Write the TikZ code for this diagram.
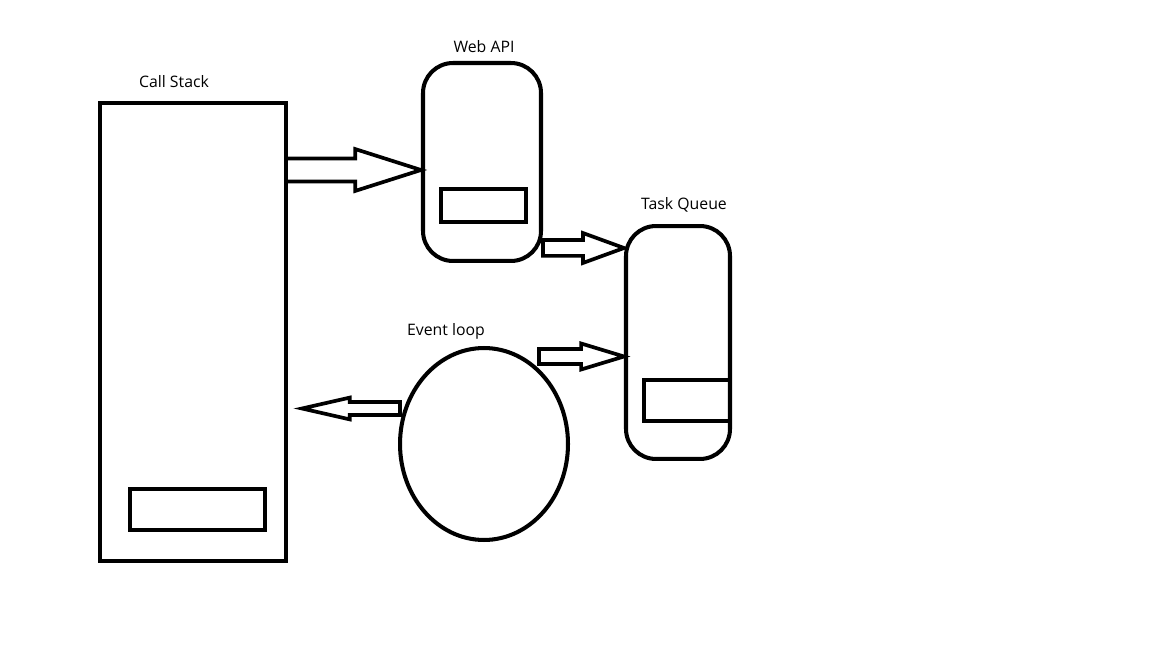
\documentclass[tikz,border=0pt]{standalone}
\usepackage{fontspec}
\setmainfont{Open Sans}
\usetikzlibrary{positioning, calc, shapes.geometric}

% fat block arrow: tail, tip, shaft half width, head half width, head length
\newcommand{\fatarrow}[5]{%
    \coordinate (hb) at ($(#2)!#5!(#1)$);
    \draw[blockarrow] ($(#1)!#3!90:(#2)$) -- ($(hb)!#3!90:(#2)$)
        -- ($(hb)!#4!90:(#2)$) -- (#2) -- ($(hb)!#4!-90:(#2)$)
        -- ($(hb)!#3!-90:(#2)$) -- ($(#1)!#3!-90:(#2)$) -- cycle;
}

\begin{document}
\begin{tikzpicture}[
    x=0.02cm, y=-0.02cm,
    box/.style={draw, line width=2.3pt, outer sep=0pt, inner sep=0pt},
    roundbox/.style={box, rounded corners=0.6cm},
    slot/.style={box},
    blockarrow/.style={line width=2.1pt, line join=miter},
    title/.style={font=\fontsize{9}{11}\selectfont}
]
    \useasboundingbox (0,0) rectangle (1152,648);

    % Call stack
    \node[box, minimum width=3.72cm, minimum height=9.16cm] (callstack) at (193,332) {};
    \node[slot, minimum width=2.7cm, minimum height=0.82cm] (stackslot) at (197.5,509.5) {};
    \node[title] (stacklabel) at (174,82) {Call Stack};

    % Web API
    \node[roundbox, minimum width=2.36cm, minimum height=3.96cm] (webapi) at (482,162) {};
    \node[slot, minimum width=1.7cm, minimum height=0.66cm] (apislot) at (483.5,205.5) {};
    \node[title] (apilabel) at (484,47) {Web API};

    % Task queue
    \node[roundbox, minimum width=2.08cm, minimum height=4.66cm] (taskqueue) at (678,342.5) {};
    \node[slot, minimum width=1.72cm, minimum height=0.82cm] (queueslot) at (687,400.5) {};
    \node[title] (queuelabel) at (684,205) {Task Queue};

    % Event loop
    \node[box, ellipse, minimum width=3.36cm, minimum height=3.84cm] (eventloop) at (484,444) {};
    \node[title] (looplabel) at (446,331) {Event loop};

    % Arrows
    \coordinate (a1s) at (callstack.east |- 0,170);
    \coordinate (a1e) at (421,170);
    \coordinate (a2s) at (543,248);
    \coordinate (a2e) at (624,248);
    \coordinate (a3s) at (539,356.5);
    \coordinate (a3e) at (624,356.5);
    \coordinate (a4s) at (eventloop.west |- 0,408.5);
    \coordinate (a4e) at (302,408.5);

    \fatarrow{a1s}{a1e}{6.5pt}{11.9pt}{37.4pt}
    \fatarrow{a2s}{a2e}{4.5pt}{8.5pt}{23.3pt}
    \fatarrow{a3s}{a3e}{4.25pt}{7.4pt}{24.4pt}
    \fatarrow{a4s}{a4e}{3.7pt}{6.2pt}{27.2pt}

\end{tikzpicture}
\end{document}
